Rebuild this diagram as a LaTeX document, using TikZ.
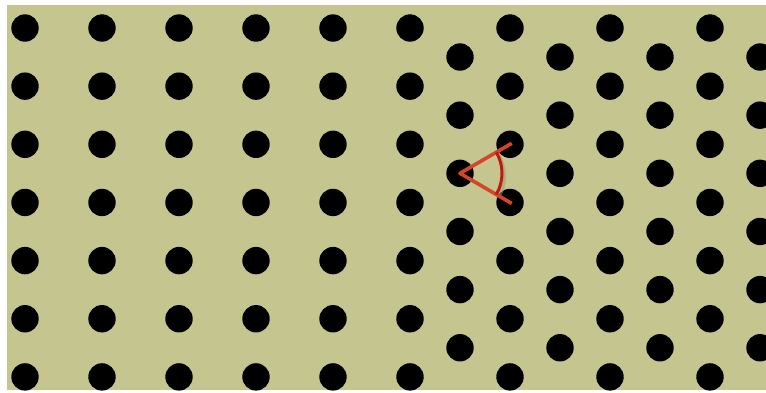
\documentclass[tikz,border=0pt]{standalone}
\definecolor{bg}{RGB}{197,198,143}
\definecolor{redline}{RGB}{212,70,42}
\definecolor{redarc}{RGB}{198,22,18}
\definecolor{shadowc}{RGB}{150,155,110}
\begin{document}
\begin{tikzpicture}[x=1pt,y=-1pt,
  dot/.style={circle,fill=black,minimum size=27.4pt,inner sep=0pt,draw=none},
  anglearm/.style={redline,line width=3.6pt,line join=round},
  anglearc/.style={redarc,line width=3pt},
  armshadow/.style={shadowc,line width=4pt,opacity=0.5}]
\useasboundingbox (0,0) rectangle (766,392);
\fill[white] (0,0) rectangle (766,392);
\fill[bg] (7,5) rectangle (766,390);
% square-type lattice on the left
\foreach \i in {0,...,5}
  \foreach \j in {0,...,6}
    \node[dot] (s-\i-\j) at ({25+77*\i},{28+58.15*\j}) {};
% hexagonal lattice on the right
\foreach \i in {0,1,2}
  \foreach \j in {0,...,6}
    \node[dot] (he-\i-\j) at ({510+100*\i},{28+58.15*\j}) {};
\foreach \i in {0,...,3}
  \foreach \j in {0,...,5}
    \node[dot] (ho-\i-\j) at ({460+100*\i},{57+58.15*\j}) {};
% angle marker
\draw[armshadow,transform canvas={shift={(2pt,-3pt)}}] (ho-0-2.center) ++(-30:42pt) arc[start angle=-30,end angle=30,radius=42pt];
\draw[anglearm,shorten <=-2pt,shorten >=-2pt] (he-0-2.center) -- (ho-0-2.center) -- (he-0-3.center);
\draw[anglearc] (ho-0-2.center) ++(-30:42pt) arc[start angle=-30,end angle=30,radius=42pt];
\end{tikzpicture}
\end{document}
